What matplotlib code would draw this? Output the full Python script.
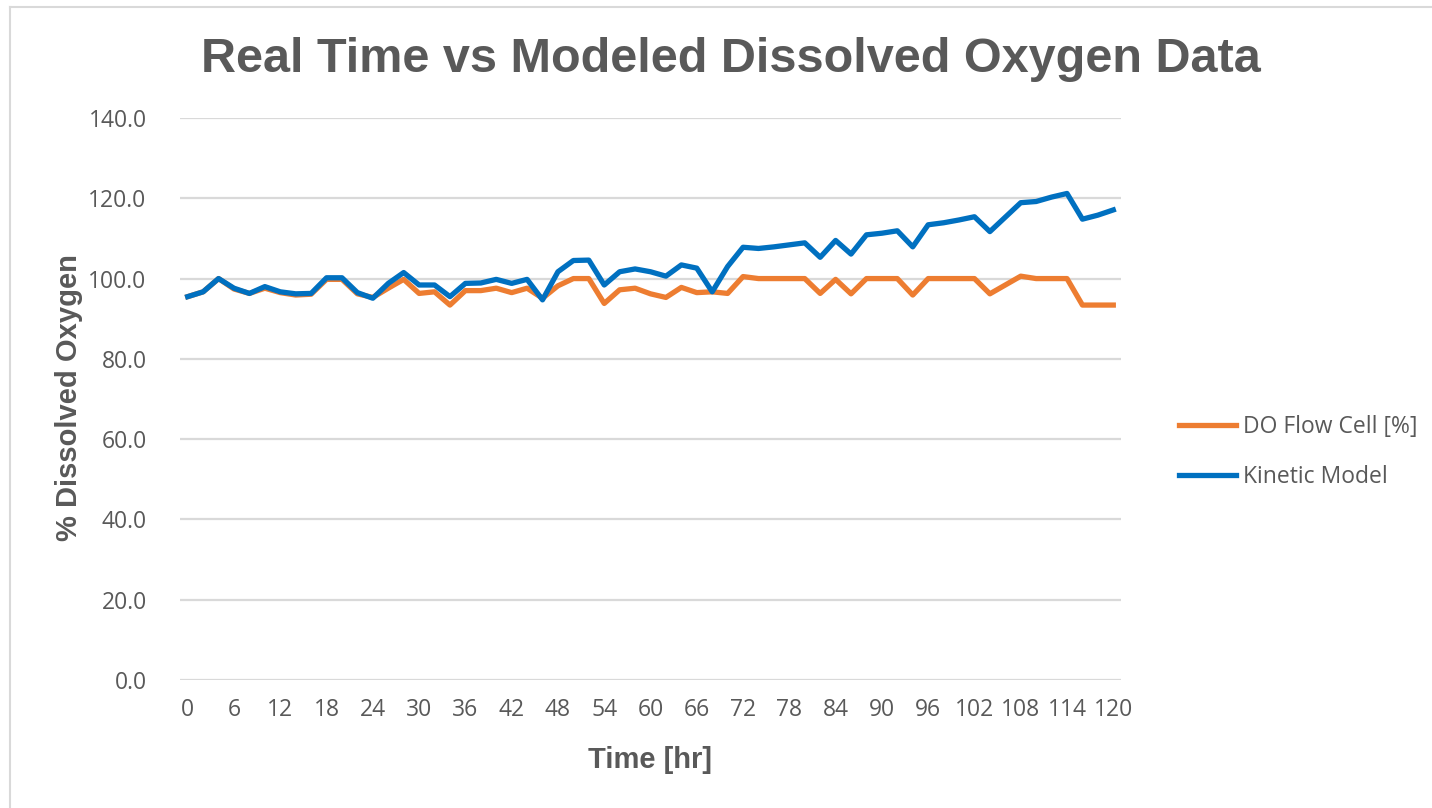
"""real time vs modeled dissolved oxygen, excel-style line chart"""
import matplotlib

matplotlib.use("Agg")
import matplotlib.pyplot as plt  # noqa: E402
from matplotlib.lines import Line2D  # noqa: E402

# sampling every 2 h, 0..120
hours = list(range(0, 121, 2))

do_flow_cell = [
    95.5, 96.7, 100.0, 97.4, 96.3, 97.6, 96.5, 95.9, 96.1, 99.8,
    99.8, 96.2, 95.3, 97.6, 99.8, 96.3, 96.7, 93.4, 97.0, 97.0,
    97.6, 96.5, 97.6, 95.1, 98.2, 100.0, 100.0, 93.8, 97.2, 97.6,
    96.2, 95.3, 97.8, 96.5, 96.7, 96.3, 100.5, 100.0, 100.0, 100.0,
    100.0, 96.3, 99.8, 96.2, 100.0, 100.0, 100.0, 95.9, 100.0, 100.0,
    100.0, 100.0, 96.2, 98.4, 100.6, 100.0, 100.0, 100.0, 93.4, 93.4,
    93.4,
]
kinetic_model = [
    95.5, 96.7, 100.0, 97.6, 96.3, 98.0, 96.7, 96.2, 96.3, 100.2,
    100.2, 96.5, 95.1, 98.8, 101.5, 98.4, 98.4, 95.5, 98.8, 98.9,
    99.8, 98.8, 99.8, 94.7, 101.7, 104.5, 104.6, 98.4, 101.7, 102.4,
    101.7, 100.6, 103.4, 102.6, 96.7, 103.0, 107.8, 107.5, 107.9, 108.4,
    108.9, 105.3, 109.5, 106.1, 110.9, 111.3, 111.9, 107.9, 113.4, 113.9,
    114.6, 115.4, 111.7, 115.3, 118.9, 119.2, 120.3, 121.2, 114.8, 115.8,
    117.1,
]

x_ticks = list(range(0, 121, 6))
y_ticks = [0, 20, 40, 60, 80, 100, 120, 140]

ORANGE = "#ED7D31"
BLUE = "#0070C0"
GRAY = "#595959"
GRID = "#D9D9D9"
BOLD = "Liberation Sans"
PLAIN = "Open Sans"

W, H = 1432, 808
fig = plt.figure(figsize=(W / 100, H / 100), dpi=100)
ax = fig.add_axes([180 / W, 1 - 680 / H, 941 / W, 562 / H])

ax.plot(hours, do_flow_cell, color=ORANGE, lw=3.8, solid_joinstyle="round", zorder=3)
ax.plot(hours, kinetic_model, color=BLUE, lw=3.8, solid_joinstyle="round", zorder=4)

ax.set_xlim(-1, 121)
ax.set_ylim(0, 140)
ax.set_xticks(x_ticks)
ax.set_xticklabels([str(t) for t in x_ticks], fontsize=16.5, color=GRAY, family=PLAIN)
ax.set_yticks(y_ticks)
ax.set_yticklabels([f"{v:.1f}" for v in y_ticks], fontsize=16.5, color=GRAY, family=PLAIN)
ax.tick_params(length=0, pad=13)
ax.tick_params(axis="y", pad=24)
ax.grid(axis="y", color=GRID, lw=1.6)
ax.set_axisbelow(True)
for s in ax.spines.values():
    s.set_visible(False)

fig.text(731 / W, 1 - 72 / H, "Real Time vs Modeled Dissolved Oxygen Data",
         ha="center", va="baseline", fontsize=35, color=GRAY, family=BOLD, fontweight="bold")
fig.text(650 / W, 1 - 768 / H, "Time [hr]", ha="center", va="baseline",
         fontsize=21, color=GRAY, family=BOLD, fontweight="bold")
fig.text(69 / W, 1 - 398 / H, "% Dissolved Oxygen", ha="center", va="center", rotation=90,
         fontsize=21, color=GRAY, family=BOLD, fontweight="bold")

handles = [Line2D([], [], color=ORANGE, lw=3.8), Line2D([], [], color=BLUE, lw=3.8)]
fig.legend(handles, ["DO Flow Cell [%]", "Kinetic Model"], loc="center left",
           bbox_to_anchor=(1158 / W, 1 - 452 / H), frameon=False,
           prop={"family": PLAIN, "size": 16.5}, labelcolor=GRAY,
           handlelength=2.5, handletextpad=0.3, labelspacing=1.1)

# thin frame lines on top and left, as in the source export
fig.add_artist(Line2D([9.5 / W, 1], [1 - 6.5 / H] * 2, color=GRID, lw=1.5))
fig.add_artist(Line2D([9.5 / W] * 2, [0, 1 - 6.5 / H], color=GRID, lw=1.5))

fig.savefig("out.png", dpi=100)
